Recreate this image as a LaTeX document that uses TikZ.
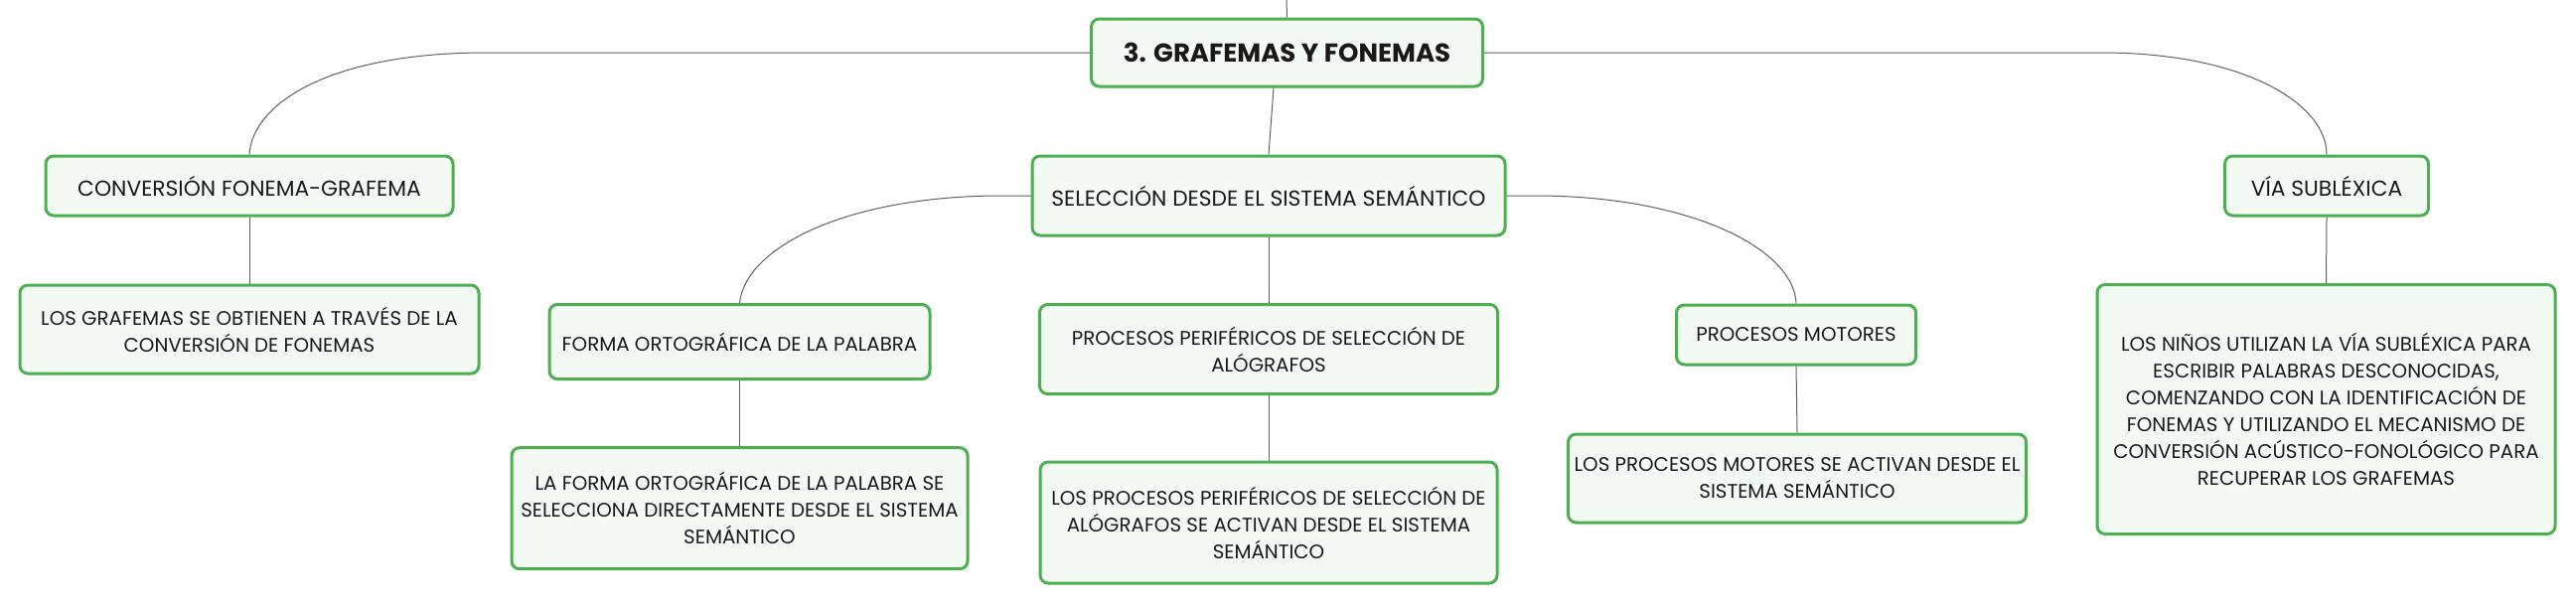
\documentclass[tikz,border=0pt]{standalone}
\usepackage{fontspec}
\setmainfont{Poppins}
\definecolor{boxgreen}{RGB}{76,175,80}
\definecolor{boxfill}{RGB}{243,250,244}
\definecolor{linegray}{RGB}{95,95,95}
\definecolor{txt}{RGB}{25,25,25}
\begin{document}
\begin{tikzpicture}[x=1pt,y=-1pt,
  box/.style={draw=boxgreen, line width=3pt, fill=boxfill, rounded corners=8pt,
    align=center, inner sep=0pt, text=txt, font=\fontsize{19.8}{27}\selectfont},
  midbox/.style={box, font=\fontsize{21.8}{28}\selectfont},
  titlebox/.style={box, font=\fontsize{26}{30}\selectfont\bfseries},
  conn/.style={draw=linegray, line width=1pt}]
\useasboundingbox (0,0) rectangle (2593,608);
\node[titlebox, minimum width=394pt, minimum height=68pt] (main) at (1295.5,53) {3. GRAFEMAS Y FONEMAS};
\node[midbox, minimum width=410pt, minimum height=60pt] (conv) at (251,187) {CONVERSIÓN FONEMA-GRAFEMA};
\node[box, minimum width=462pt, minimum height=89pt] (graf) at (251,331.5) {LOS GRAFEMAS SE OBTIENEN A TRAVÉS DE LA\\CONVERSIÓN DE FONEMAS};
\node[midbox, minimum width=476pt, minimum height=80pt] (sel) at (1277,197) {SELECCIÓN DESDE EL SISTEMA SEMÁNTICO};
\node[box, minimum width=383pt, minimum height=75pt] (forma) at (744.5,344) {FORMA ORTOGRÁFICA DE LA PALABRA};
\node[box, minimum width=461pt, minimum height=90pt] (pp) at (1277,351.5) {PROCESOS PERIFÉRICOS DE SELECCIÓN DE\\ALÓGRAFOS};
\node[box, minimum width=459pt, minimum height=122pt] (lafor) at (744.5,511.7) {LA FORMA ORTOGRÁFICA DE LA PALABRA SE\\SELECCIONA DIRECTAMENTE DESDE EL SISTEMA\\SEMÁNTICO};
\node[box, minimum width=460pt, minimum height=122pt] (lospp) at (1277,526) {LOS PROCESOS PERIFÉRICOS DE SELECCIÓN DE\\ALÓGRAFOS SE ACTIVAN DESDE EL SISTEMA\\SEMÁNTICO};
\node[box, minimum width=241pt, minimum height=60pt] (pm) at (1808,337) {PROCESOS MOTORES};
\node[box, minimum width=461pt, minimum height=89pt] (lospm) at (1809,481.5) {LOS PROCESOS MOTORES SE ACTIVAN DESDE EL\\SISTEMA SEMÁNTICO};
\node[midbox, minimum width=205pt, minimum height=60pt] (via) at (2342,187) {VÍA SUBLÉXICA};
\node[box, minimum width=461pt, minimum height=251pt] (big) at (2341.5,412) {LOS NIÑOS UTILIZAN LA VÍA SUBLÉXICA PARA\\ESCRIBIR PALABRAS DESCONOCIDAS,\\COMENZANDO CON LA IDENTIFICACIÓN DE\\FONEMAS Y UTILIZANDO EL MECANISMO DE\\CONVERSIÓN ACÚSTICO-FONOLÓGICO PARA\\RECUPERAR LOS GRAFEMAS};
\coordinate (top) at (1295,0);
\coordinate (bl) at (490,53);
\coordinate (br) at (2115,53);
\coordinate (sl) at (1009,197);
\coordinate (sr) at (1545,197);
\draw[conn] (top) -- (main.north);
\draw[conn] ([xshift=-13.5pt]main.south) -- (sel.north);
\draw[conn] (main.west) -- (bl) .. controls (330,53) and (254,105) .. (conv.north);
\draw[conn] (main.east) -- (br) .. controls (2260,53) and (2342,105) .. (via.north);
\draw[conn] (sel.west) -- (sl) .. controls (850,197) and (750,250) .. (forma.north);
\draw[conn] (sel.east) -- (sr) .. controls (1700,197) and (1806,250) .. (pm.north);
\draw[conn] (conv.south) -- (graf.north);
\draw[conn] (forma.south) -- (lafor.north);
\draw[conn] (sel.south) -- (pp.north);
\draw[conn] (pp.south) -- (lospp.north);
\draw[conn] (pm.south) -- (lospm.north);
\draw[conn] (via.south) -- (big.north);
\end{tikzpicture}
\end{document}
